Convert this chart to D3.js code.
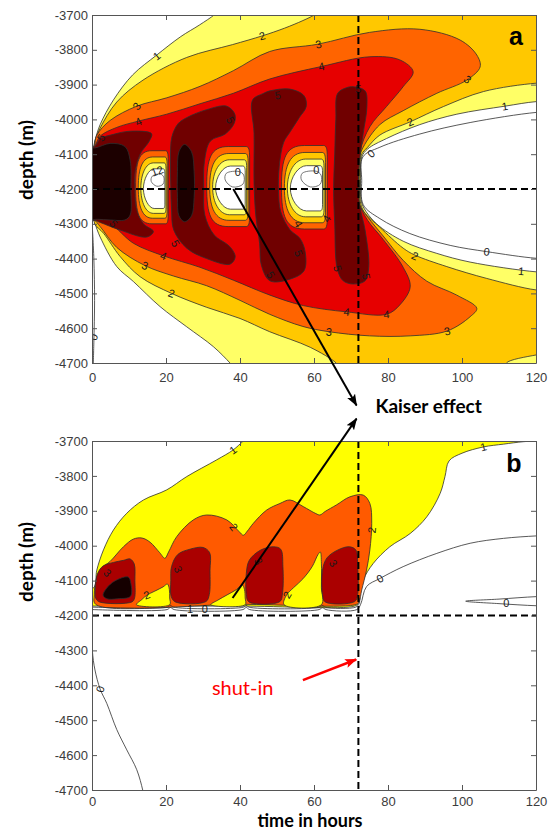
<!DOCTYPE html>
<html><head><meta charset="utf-8">
<script src="https://cdn.jsdelivr.net/npm/d3@7"></script>
<style>body{margin:0;background:#fff}svg{display:block}</style>
</head><body>
<svg id="c" width="548" height="831"></svg>
<script>
// ---------- axes data ----------
const timeTicks=[0,20,40,60,80,100,120];
const depthTicks=[-3700,-3800,-3900,-4000,-4100,-4200,-4300,-4400,-4500,-4600,-4700];
const shutInTime=72, injDepth=-4200;
const colorsA=["#FFFF66","#FFC800","#FF6400","#E60000","#700000","#1C0000"]; // >=1..>=6
const colorsB=["#FFFF00","#FF5A00","#AA0000","#150000"];                       // >=1..>=4

// ---------- panel a : contour regions [time h, depth m] ----------
const aLevel1=[[34,-3690],[33,-3700],[29,-3729],[24,-3762],[17.5,-3815],[11,-3872],[5.8,-3944],[2.2,-4015],[0.8,-4060],[0.2,-4082],[-3,-4084],[-3,-4284],[0.2,-4286],[0.8,-4300],[2.2,-4338],[6.7,-4423],[11.2,-4466],[18.4,-4538],[25.6,-4596],[32.8,-4653],[37.3,-4700],[38.5,-4715],[80,-4730],[126,-4730],[126,-4440],[120,-4438],[102.2,-4410],[93.2,-4385],[84.1,-4350],[76.9,-4300],[73.5,-4255],[72.7,-4230],[72.6,-4170],[72.9,-4108],[74.5,-4085],[79.6,-4055],[88.6,-4015],[98.6,-3985],[111.6,-3962],[120,-3949],[126,-3948],[126,-3680],[80,-3680]];
const aLevel2=[[61,-3690],[60,-3700],[57,-3716],[52,-3738],[46,-3760],[38,-3785],[25.6,-3822],[13.8,-3887],[6.7,-3950],[2.2,-4025],[0.8,-4062],[0.25,-4082],[-3,-4083],[-3,-4285],[0.3,-4287],[0.8,-4302],[3.1,-4327],[7.6,-4394],[13,-4452],[21.5,-4500],[31,-4540],[40,-4572],[48,-4610],[59,-4655],[66,-4700],[67,-4715],[90,-4725],[112,-4712],[112,-4700],[120,-4677],[126,-4670],[126,-4492],[120,-4490],[106.7,-4457],[95.9,-4423],[87.3,-4390],[84.1,-4370],[77.8,-4310],[73.5,-4265],[72.5,-4235],[72.4,-4170],[72.8,-4102],[74.5,-4080],[77.8,-4045],[86,-4007],[95,-3963],[105.8,-3920],[120,-3896],[126,-3895],[126,-3680],[90,-3680]];
const aLevel3=[[-3,-4082],[0.3,-4081],[1.3,-4045],[4.9,-4003],[12.1,-3962],[20.2,-3938],[29.2,-3905],[38.2,-3860],[48,-3805],[61,-3784],[75,-3750],[88.6,-3741],[99.5,-3772],[104,-3815],[104.9,-3849],[101.3,-3887],[93.2,-3925],[84.1,-3975],[77.8,-4015],[73.3,-4080],[72.3,-4110],[72.2,-4200],[72.3,-4245],[74.5,-4280],[78.7,-4335],[84.1,-4405],[90.5,-4465],[98.6,-4505],[104,-4543],[102.2,-4567],[96,-4608],[86,-4622],[75,-4622],[64,-4610],[57,-4595],[48,-4560],[40,-4520],[31,-4478],[22,-4450],[14.3,-4420],[6.7,-4368],[2.2,-4308],[0.4,-4288],[-3,-4287]];
const aLevel4=[[-3,-4081],[0.4,-4080],[2.2,-4048],[6.7,-4023],[12.5,-4005],[20.2,-3985],[29.2,-3955],[38.2,-3925],[48,-3884],[62,-3848],[75.1,-3820],[83.2,-3829],[86.8,-3863],[84.1,-3906],[79.6,-3963],[75.1,-4021],[72.4,-4095],[72.1,-4200],[72.2,-4240],[74.5,-4290],[78.7,-4345],[84.1,-4425],[86,-4481],[83.2,-4533],[79.6,-4560],[68.8,-4553],[57.1,-4535],[48.1,-4505],[38.2,-4462],[29.2,-4425],[19.3,-4392],[11.2,-4356],[4.9,-4300],[0.5,-4289],[-3,-4288]];
const aLevel5=[
 [[-3,-4080],[0.6,-4079],[2.2,-4056],[5.8,-4043],[10.3,-4034],[16.1,-4041],[15.5,-4062],[13,-4100],[11.6,-4155],[11.6,-4203],[12,-4255],[13.9,-4300],[16.6,-4322],[14.8,-4338],[7.6,-4318],[2.2,-4296],[0.6,-4290],[-3,-4290]],
 [[21.6,-4050],[23.3,-4012],[25.6,-3995],[31,-3972],[36.4,-3962],[38.6,-3985],[38.4,-4012],[36,-4042],[32,-4062],[30.4,-4120],[30.2,-4200],[30.5,-4275],[33,-4332],[37.2,-4365],[38.7,-4395],[37.3,-4416],[31,-4400],[25.6,-4370],[22.1,-4318],[21.5,-4260],[21.3,-4193],[21.2,-4117]],
 [[43.4,-3944],[46.2,-3926],[48.1,-3918],[53.5,-3913],[57.3,-3932],[57.9,-3963],[56,-3995],[53.6,-4035],[51.8,-4066],[50.6,-4136],[50.4,-4203],[51,-4265],[53.5,-4317],[56.2,-4342],[57.6,-4380],[57.3,-4435],[53.5,-4459],[48.1,-4464],[45.8,-4420],[45.3,-4356],[44.3,-4280],[43.8,-4184],[43.8,-4040]],
 [[66.4,-3925],[68.8,-3909],[70.6,-3906],[73.8,-3918],[74.3,-3963],[73.3,-4040],[72.3,-4120],[72,-4200],[72.4,-4251],[73.8,-4318],[74.8,-4423],[73.8,-4464],[70.6,-4473],[67.9,-4464],[66.3,-4430],[65.6,-4300],[65.3,-4200],[65.6,-4100],[65.9,-4000]]
];
const aLevel6=[
 [[-3,-4082],[0.8,-4082],[4.9,-4069],[8.9,-4078],[10.3,-4117],[10.5,-4203],[10.3,-4275],[8.9,-4289],[4.9,-4289],[1.4,-4287],[-3,-4287]],
 [[25,-4072],[26.9,-4093],[27.6,-4150],[27.6,-4225],[26.9,-4277],[25,-4294],[23.5,-4277],[23.1,-4225],[23.1,-4150],[23.5,-4093]]
];
// low-value pockets: bands [tLeft, tRight, dTop, dBottom] for <4, <3, <2, <1
const aPocket1=[[11.8,20.6,-4090,-4300],[12.5,20.3,-4108,-4284],[13.2,20.0,-4125,-4270],[13.9,19.7,-4142,-4256]];
const aPocket2=[[31.0,42.6,-4078,-4308],[31.8,42.2,-4098,-4290],[32.6,41.8,-4116,-4274],[33.4,41.4,-4134,-4258]];
const aPocket3=[[51.2,63.6,-4075,-4315],[52.0,63.1,-4095,-4297],[52.8,62.7,-4114,-4280],[53.6,62.3,-4133,-4263]];
const aZeroLoops=[
 [[16.3,-4163],[18.5,-4157],[19.4,-4166],[19.2,-4186],[17.5,-4192],[16.0,-4178]],
 [[36.3,-4155],[39.8,-4150],[41.0,-4160],[40.8,-4186],[38,-4194],[36.0,-4174]],
 [[56.8,-4155],[60.6,-4149],[61.9,-4160],[61.7,-4186],[59,-4194],[56.6,-4174]]
];
const aZeroLine=[[126,-3978],[120,-3980],[102.2,-4009],[88.6,-4042],[77.8,-4080],[73.2,-4108],[72.9,-4175],[73.3,-4245],[77.8,-4285],[85.9,-4328],[96.8,-4362],[106.7,-4380],[120,-4399],[126,-4400]];
const aZeroLeft=[[0.05,-4300],[0.5,-4400],[0.7,-4520],[0.5,-4640],[0.3,-4720]];
const aLabels=[["1",17.5,-3818,-38],["2",46,-3760,-15],["3",12.1,-3962,-50],["4",12.5,-4006,-25],["5",2.4,-4052,-55],
 ["5",37.4,-4002,62],["5",50.2,-3930,-8],["3",61.2,-3784,-12],["4",62,-3848,-12],["5",72,-3912,0],["3",101.5,-3885,40],
 ["2",86,-4007,-25],["1",111.6,-3962,-10],["0",75.4,-4098,-40],
 ["5",5.8,-4299,50],["5",22.6,-4356,60],["4",19.3,-4392,20],["3",14.3,-4420,20],["2",21.5,-4500,20],["5",48.3,-4447,60],["0",0.4,-4625,-70],
 ["4",55.8,-4300,60],["4",63.4,-4285,-60],["5",55.8,-4385,70],["5",66.4,-4428,75],["5",74.1,-4452,80],["2",87.3,-4392,25],
 ["0",106.7,-4380,6],["1",116,-4436,6],["4",68.8,-4553,5],["4",79.6,-4560,-5],["3",64,-4610,5],["3",96,-4608,-15],
 ["12",17.6,-4148,-20],["0",39.4,-4152,0],["0",60.6,-4145,0]];

// ---------- panel b : contour regions ----------
const bLevel1=[[-3,-4130],[0.5,-4120],[1.3,-4070],[3.1,-4012],[5.8,-3955],[9.4,-3907],[13.9,-3869],[20.2,-3840],[25.6,-3802],[33.7,-3754],[38.1,-3726],[40.9,-3700],[42,-3690],[126,-3690],[126,-3698],[120,-3700],[116.6,-3702],[111.2,-3709],[105.8,-3717],[100,-3735],[96.5,-3757],[95.4,-3802],[94.1,-3850],[90.5,-3917],[86,-3965],[80.5,-4003],[76,-4051],[73.3,-4098],[72.3,-4140],[72,-4165],[71,-4173],[40,-4173],[0,-4173],[-3,-4173]];
const bLevel2=[[0.6,-4140],[1.2,-4095],[2.5,-4065],[4.9,-4045],[8.5,-4003],[11.2,-3981],[13.5,-3978],[15.7,-3990],[18.3,-4020],[19.7,-4036],[20.7,-4018],[22.9,-3974],[27.4,-3926],[31,-3912],[36.4,-3926],[39.8,-3960],[40.9,-3970],[42,-3958],[43.6,-3936],[47.2,-3898],[50.8,-3879],[53.5,-3869],[57.1,-3888],[60.5,-3908],[61.6,-3912],[63,-3902],[66.1,-3883],[69.7,-3860],[73.3,-3855],[75.1,-3879],[75.6,-3936],[75.1,-4012],[74.2,-4070],[72.9,-4127],[72.2,-4160],[71.5,-4168],[40,-4168],[1,-4168]];
const bWedges=[
 [[12.0,-4169],[13.5,-4154],[14.8,-4142],[17,-4130],[19.2,-4118],[20.4,-4110],[20.9,-4125],[21.0,-4150],[21.0,-4169]],
 [[32.1,-4169],[34,-4156],[36.5,-4141],[39,-4126],[40.6,-4112],[41.2,-4125],[41.4,-4150],[41.4,-4169]],
 [[51.9,-4169],[52.6,-4141],[54.5,-4120],[57,-4095],[59.5,-4060],[61.1,-4025],[61.7,-4018],[62.0,-4050],[62.0,-4120],[62.0,-4169]]
];
const bLevel3=[
 [[0.9,-4125],[1.5,-4080],[3,-4058],[5.8,-4048],[8.5,-4042],[10.3,-4038],[11.4,-4052],[11.6,-4100],[11.5,-4150],[10.8,-4161],[2,-4161],[1,-4150]],
 [[21.3,-4100],[21.5,-4060],[23.2,-4025],[26.5,-4010],[30,-4005],[31.8,-4020],[31.9,-4070],[31.7,-4140],[30.8,-4160],[22.5,-4161],[21.4,-4145]],
 [[41.7,-4140],[41.7,-4080],[42.5,-4042],[45.5,-4013],[49,-4003],[51,-4010],[51.6,-4060],[51.5,-4135],[50.8,-4160],[42.4,-4161]],
 [[62.3,-4140],[62.3,-4070],[63.5,-4035],[66.5,-4012],[69.5,-4003],[71.3,-4012],[71.8,-4060],[71.8,-4140],[71,-4160],[63,-4161]]
];
const bLevel4=[[[3,-4142],[4.5,-4115],[6.7,-4098],[9.8,-4090],[10.5,-4108],[10.4,-4145],[7,-4152],[4,-4152]]];
const bOneLine=[[0,-4176],[20.5,-4176],[21.2,-4171],[22,-4176],[41,-4176],[41.7,-4171],[42.4,-4176],[61.6,-4176],[62.3,-4171],[63,-4176],[71.3,-4176],[72.2,-4166],[72.4,-4150]];
const bZeroLine=[[0,-4183],[20.3,-4183],[21.2,-4177],[22.2,-4183],[40.8,-4183],[41.7,-4177],[42.6,-4183],[61.4,-4183],[62.3,-4177],[63.2,-4183],[71.6,-4183],[72.6,-4168],[74.2,-4117],[77.8,-4094],[84.1,-4060],[93.2,-4022],[102.2,-3993],[111.2,-3979],[120,-3972],[126,-3970]];
const bZeroWedge=[[126,-4145],[120,-4146],[110,-4153],[101,-4159],[110,-4166],[120,-4172],[126,-4173]];
const bZeroLeft=[[0.05,-4190],[0.1,-4300],[0.8,-4356],[2.2,-4411],[4,-4452],[6.7,-4527],[9.4,-4585],[12.1,-4642],[13.7,-4700],[14,-4720]];
const bLabels=[["1",38.1,-3726,-35],["2",38.3,-3946,52],["2",75.6,-3955,-85],["3",4.2,-4078,45],["3",23.3,-4068,65],["3",45,-4044,60],["3",65.2,-4050,55],
 ["2",14.8,-4141,-20],["2",52.7,-4141,-60],["1",26.5,-4181,0],["0",30.5,-4181,0],["0",77.8,-4094,-30],["1",105.8,-3717,-15],["0",112,-4163,0],["0",2.2,-4411,-72]];

// ---------- annotations ----------
const kaiserFromA=[38.2,-4200], kaiserTipA=[71.5,-4822], kaiserTextA=[76.6,-4845];
const kaiserFromB=[38.0,-4150], kaiserTipB=[71.5,-3636];
const shutFromB=[57,-4385], shutTipB=[71.4,-4326], shutTextB=[32.4,-4428];

// ---------- drawing ----------
const svg=d3.select("#c");
const x=d3.scaleLinear([0,120],[92,536]);
const yA=d3.scaleLinear([-3700,-4700],[15,363]);
const yB=d3.scaleLinear([-3700,-4700],[441,790]);
const defs=svg.append("defs");
[["clipA",yA],["clipB",yB]].forEach(([id,ys])=>{
  defs.append("clipPath").attr("id",id).append("rect").attr("x",x(0)).attr("y",ys(-3700)).attr("width",x(120)-x(0)).attr("height",ys(-4700)-ys(-3700));
});
function marker(id,col){defs.append("marker").attr("id",id).attr("viewBox","0 0 12 10").attr("refX",11).attr("refY",5)
  .attr("markerWidth",12).attr("markerHeight",10).attr("markerUnits","userSpaceOnUse").attr("orient","auto")
  .append("path").attr("d","M0,0.5 L12,5 L0,9.5 L2.5,5 Z").attr("fill",col);}
marker("arrK","#000"); marker("arrR","#f00");

const LINE="#2e2e2e";
function closedPath(pts,ys){return d3.line().x(p=>x(p[0])).y(p=>ys(p[1])).curve(d3.curveCatmullRomClosed.alpha(0.5))(pts);}
function openPath(pts,ys){return d3.line().x(p=>x(p[0])).y(p=>ys(p[1])).curve(d3.curveCatmullRom.alpha(0.5))(pts);}
function fillPoly(g,pts,ys,col){g.append("path").attr("d",closedPath(pts,ys)).attr("fill",col).attr("stroke",LINE).attr("stroke-width",0.8);}
function linePath(g,pts,ys,col,w){g.append("path").attr("d",openPath(pts,ys)).attr("fill","none").attr("stroke",col||LINE).attr("stroke-width",w||0.8);}
function pocketPath(b,k,ys){
  const [tL,tR,dT,dB]=b; const x0=x(tL),x1=x(tR),y0=ys(dT),y1=ys(dB);
  const w=x1-x0,h=y1-y0,ym=(y0+y1)/2,s=k/3,ax=0.1+0.15*s,by=0.36-0.12*s;
  const p=d3.path();
  p.moveTo(x1-0.08*w,y0);
  p.bezierCurveTo(x1-0.02*w,y0,x1,y0+0.04*h,x1,y0+0.14*h);
  p.lineTo(x1,y1-0.14*h);
  p.bezierCurveTo(x1,y1-0.04*h,x1-0.02*w,y1,x1-0.08*w,y1);
  p.lineTo(x0+0.5*w,y1);
  p.bezierCurveTo(x0+ax*w,y1,x0,ym+by*h,x0,ym);
  p.bezierCurveTo(x0,ym-by*h,x0+ax*w,y0,x0+0.5*w,y0);
  p.closePath(); return p.toString();
}
function labels(g,arr,ys){
  arr.forEach(([t,tx,d,r])=>{
    g.append("text").attr("transform",`translate(${x(tx)},${ys(d)}) rotate(${r})`)
     .attr("text-anchor","middle").attr("dominant-baseline","central")
     .style("font-family","'Liberation Sans',Arial,sans-serif").style("font-size","11px").attr("fill","#1a1a1a").text(t);
  });
}
function axes(ys,pad){
  const top=ys(-3700),bot=ys(-4700);
  const st=g=>{g.selectAll("path,line").attr("stroke","#555");g.selectAll("text").attr("fill","#3c3c3c").style("font-family","'Liberation Sans',Arial,sans-serif").style("font-size","13px");};
  svg.append("g").attr("transform",`translate(0,${bot})`).call(d3.axisBottom(x).tickValues(timeTicks).tickSizeInner(-5).tickSizeOuter(0).tickPadding(pad).tickFormat(d=>String(d))).call(st);
  svg.append("g").attr("transform",`translate(0,${top})`).call(d3.axisTop(x).tickValues(timeTicks).tickSizeInner(-5).tickSizeOuter(0).tickFormat("")).call(st);
  svg.append("g").attr("transform",`translate(${x(0)},0)`).call(d3.axisLeft(ys).tickValues(depthTicks).tickSizeInner(-5).tickSizeOuter(0).tickPadding(4).tickFormat(d=>String(d))).call(st);
  svg.append("g").attr("transform",`translate(${x(120)},0)`).call(d3.axisRight(ys).tickValues(depthTicks).tickSizeInner(-5).tickSizeOuter(0).tickFormat("")).call(st);
}
function dashed(g,ys){
  g.append("line").attr("x1",x(0)).attr("x2",x(120)).attr("y1",ys(injDepth)).attr("y2",ys(injDepth)).attr("stroke","#000").attr("stroke-width",2).attr("stroke-dasharray","7,4");
  g.append("line").attr("x1",x(shutInTime)).attr("x2",x(shutInTime)).attr("y1",ys(-3700)).attr("y2",ys(-4700)).attr("stroke","#000").attr("stroke-width",2).attr("stroke-dasharray","7,4");
}

// panel a
const gA=svg.append("g").attr("clip-path","url(#clipA)");
fillPoly(gA,aLevel1,yA,colorsA[0]);
fillPoly(gA,aLevel2,yA,colorsA[1]);
fillPoly(gA,aLevel3,yA,colorsA[2]);
fillPoly(gA,aLevel4,yA,colorsA[3]);
aLevel5.forEach(p=>fillPoly(gA,p,yA,colorsA[4]));
aLevel6.forEach(p=>fillPoly(gA,p,yA,colorsA[5]));
const pocketCols=[colorsA[2],colorsA[1],colorsA[0],"#FFFFFF"];
[aPocket1,aPocket2,aPocket3].forEach(pk=>pk.forEach((b,k)=>{
  gA.append("path").attr("d",pocketPath(b,k,yA)).attr("fill",pocketCols[k]).attr("stroke",LINE).attr("stroke-width",0.8);
}));
aZeroLoops.forEach(p=>gA.append("path").attr("d",closedPath(p,yA)).attr("fill","none").attr("stroke","#555").attr("stroke-width",0.8));
linePath(gA,aZeroLine,yA);
linePath(gA,aZeroLeft,yA);
labels(gA,aLabels,yA);
dashed(gA,yA);
axes(yA,10);

// panel b
const gB=svg.append("g").attr("clip-path","url(#clipB)");
fillPoly(gB,bLevel1,yB,colorsB[0]);
fillPoly(gB,bLevel2,yB,colorsB[1]);
bWedges.forEach(p=>fillPoly(gB,p,yB,colorsB[0]));
bLevel3.forEach(p=>fillPoly(gB,p,yB,colorsB[2]));
bLevel4.forEach(p=>fillPoly(gB,p,yB,colorsB[3]));
linePath(gB,bOneLine,yB);
linePath(gB,bZeroLine,yB);
linePath(gB,bZeroWedge,yB);
linePath(gB,bZeroLeft,yB);
labels(gB,bLabels,yB);
dashed(gB,yB);
axes(yB,7);

// panel letters
const bold="'Liberation Sans',Arial,sans-serif";
svg.append("text").attr("x",516).attr("y",45).attr("text-anchor","middle").style("font-family",bold).style("font-weight","bold").style("font-size","25px").text("a");
svg.append("text").attr("x",514).attr("y",472).attr("text-anchor","middle").style("font-family",bold).style("font-weight","bold").style("font-size","25px").text("b");

// axis titles
const tf="Lato,'Open Sans',sans-serif";
[[25,160],[25,562]].forEach(([cx,cy])=>{
  svg.append("text").attr("transform",`translate(${cx},${cy}) rotate(-90)`).attr("text-anchor","middle").attr("dominant-baseline","central")
   .style("font-family",tf).style("font-weight","bold").style("font-size","19px").text("depth (m)");
});
svg.append("text").attr("x",310).attr("y",827).attr("text-anchor","middle").style("font-family",tf).style("font-weight","bold").style("font-size","18px").text("time in hours");

// annotations
svg.append("line").attr("x1",x(kaiserFromA[0])).attr("y1",yA(kaiserFromA[1])).attr("x2",x(kaiserTipA[0])).attr("y2",yA(kaiserTipA[1])).attr("stroke","#000").attr("stroke-width",2).attr("marker-end","url(#arrK)");
svg.append("line").attr("x1",x(kaiserFromB[0])).attr("y1",yB(kaiserFromB[1])).attr("x2",x(kaiserTipB[0])).attr("y2",yB(kaiserTipB[1])).attr("stroke","#000").attr("stroke-width",2).attr("marker-end","url(#arrK)");
svg.append("text").attr("x",x(kaiserTextA[0])).attr("y",yA(kaiserTextA[1])).style("font-family",tf).style("font-weight","bold").style("font-size","19px").text("Kaiser effect");
svg.append("line").attr("x1",x(shutFromB[0])).attr("y1",yB(shutFromB[1])).attr("x2",x(shutTipB[0])).attr("y2",yB(shutTipB[1])).attr("stroke","#f00").attr("stroke-width",2.5).attr("marker-end","url(#arrR)");
svg.append("text").attr("x",x(shutTextB[0])).attr("y",yB(shutTextB[1])).style("font-family",tf).style("font-size","20px").attr("fill","#f00").text("shut-in");
</script>
</body></html>
